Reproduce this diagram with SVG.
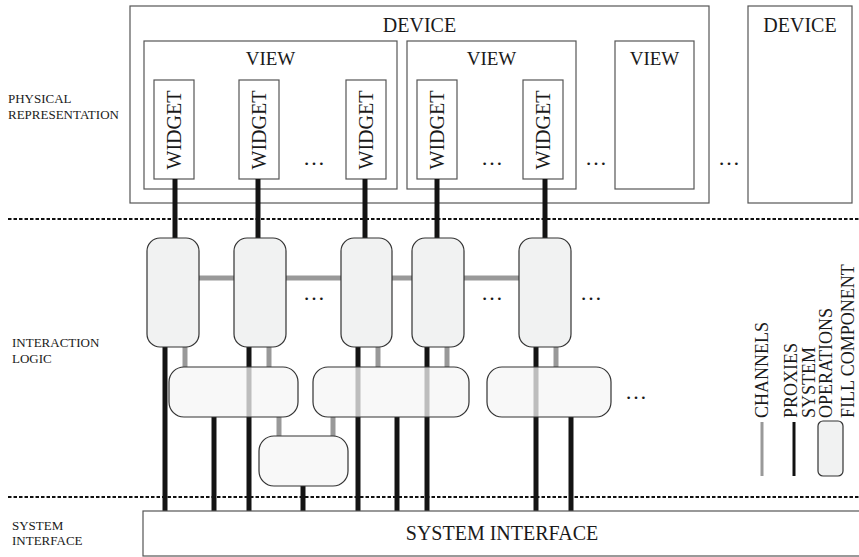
<svg xmlns="http://www.w3.org/2000/svg" width="859" height="557" viewBox="0 0 859 557">
<style>
text{font-family:"Liberation Serif","Times New Roman",serif;fill:#1a1a1a}
.lbl{font-size:13px}
.box{fill:#fff;stroke:#555;stroke-width:1.2}
.big{font-size:20px;text-anchor:middle}
.view{font-size:19px;text-anchor:middle}
.wt{font-size:20px;text-anchor:middle}
.proxy{fill:#f1f2f2;stroke:#333;stroke-width:1.2}
.op{fill:#f5f5f5;fill-opacity:0.75;stroke:#333;stroke-width:1.2}
.blk{stroke:#141414;stroke-width:5;fill:none}
.gry{stroke:#999;stroke-width:5;fill:none}
.dash{stroke:#111;stroke-width:2;stroke-dasharray:3.5 2;fill:none}
.ell{font-size:22px;text-anchor:middle}
.leg{font-size:18px}
</style>

<g id="separators">
<line class="dash" x1="8" y1="219" x2="859" y2="219"/>
<line class="dash" x1="8" y1="497" x2="859" y2="497"/>
</g>

<g id="layer-labels">
<text class="lbl" x="8" y="103">PHYSICAL</text>
<text class="lbl" x="8" y="119">REPRESENTATION</text>
<text class="lbl" x="12" y="347">INTERACTION</text>
<text class="lbl" x="12" y="363">LOGIC</text>
<text class="lbl" x="12" y="530">SYSTEM</text>
<text class="lbl" x="12" y="545">INTERFACE</text>
</g>

<g id="device1">
<rect class="box" x="130" y="6" width="579" height="197"/>
<text class="big" x="419.5" y="32">DEVICE</text>
</g>
<g id="device2">
<rect class="box" x="748" y="6" width="104" height="197"/>
<text class="big" x="800" y="32">DEVICE</text>
</g>
<g id="view1">
<rect class="box" x="144" y="41" width="253" height="148"/>
<text class="view" x="270.5" y="65">VIEW</text>
</g>
<g id="view2">
<rect class="box" x="407" y="41" width="169" height="148"/>
<text class="view" x="491.5" y="65">VIEW</text>
</g>
<g id="view3">
<rect class="box" x="615" y="41" width="79" height="148"/>
<text class="view" x="654.5" y="65">VIEW</text>
</g>

<g id="widget1"><rect class="box" x="154" y="80" width="40" height="99"/><text class="wt" transform="translate(181,130) rotate(-90)">WIDGET</text></g>
<g id="widget2"><rect class="box" x="239" y="80" width="40" height="99"/><text class="wt" transform="translate(266,130) rotate(-90)">WIDGET</text></g>
<g id="widget3"><rect class="box" x="346" y="80" width="40" height="99"/><text class="wt" transform="translate(373,130) rotate(-90)">WIDGET</text></g>
<g id="widget4"><rect class="box" x="417" y="80" width="40" height="99"/><text class="wt" transform="translate(444,130) rotate(-90)">WIDGET</text></g>
<g id="widget5"><rect class="box" x="523" y="80" width="40" height="99"/><text class="wt" transform="translate(550,130) rotate(-90)">WIDGET</text></g>

<g id="ellipses">
<text class="ell" x="314" y="165">…</text>
<text class="ell" x="492" y="165">…</text>
<text class="ell" x="596" y="165">…</text>
<text class="ell" x="729" y="165">…</text>
<text class="ell" x="314" y="300">…</text>
<text class="ell" x="492" y="300">…</text>
<text class="ell" x="591" y="300">…</text>
<text class="ell" x="636" y="399">…</text>
</g>

<g id="connectors">
<line class="blk" x1="175" y1="179" x2="175" y2="238"/>
<line class="blk" x1="258" y1="179" x2="258" y2="238"/>
<line class="blk" x1="365" y1="179" x2="365" y2="238"/>
<line class="blk" x1="437" y1="179" x2="437" y2="238"/>
<line class="blk" x1="545" y1="179" x2="545" y2="238"/>
<line class="gry" x1="199" y1="278" x2="234" y2="278"/>
<line class="gry" x1="286" y1="278" x2="341" y2="278"/>
<line class="gry" x1="392" y1="278" x2="412" y2="278"/>
<line class="gry" x1="464" y1="278" x2="519" y2="278"/>
<line class="gry" x1="185" y1="347" x2="185" y2="367"/>
<line class="gry" x1="269" y1="347" x2="269" y2="367"/>
<line class="gry" x1="378" y1="347" x2="378" y2="367"/>
<line class="gry" x1="447" y1="347" x2="447" y2="367"/>
<line class="gry" x1="556" y1="347" x2="556" y2="367"/>
<line class="gry" x1="279" y1="417" x2="279" y2="436"/>
<line class="gry" x1="333" y1="417" x2="333" y2="436"/>
<line class="blk" x1="165" y1="347" x2="165" y2="511"/>
<line class="blk" x1="249" y1="347" x2="249" y2="511"/>
<line class="blk" x1="358" y1="347" x2="358" y2="511"/>
<line class="blk" x1="427" y1="347" x2="427" y2="511"/>
<line class="blk" x1="536" y1="347" x2="536" y2="511"/>
<line class="blk" x1="214" y1="417" x2="214" y2="511"/>
<line class="blk" x1="397" y1="417" x2="397" y2="511"/>
<line class="blk" x1="571" y1="417" x2="571" y2="511"/>
<line class="blk" x1="303" y1="486" x2="303" y2="511"/>
</g>

<g id="proxy1"><rect class="proxy" x="147" y="238" width="52" height="109" rx="13"/></g>
<g id="proxy2"><rect class="proxy" x="234" y="238" width="52" height="109" rx="13"/></g>
<g id="proxy3"><rect class="proxy" x="341" y="238" width="51" height="109" rx="13"/></g>
<g id="proxy4"><rect class="proxy" x="412" y="238" width="52" height="109" rx="13"/></g>
<g id="proxy5"><rect class="proxy" x="519" y="238" width="52" height="109" rx="13"/></g>

<g id="opA"><rect class="op" x="169" y="367" width="129" height="50" rx="15"/></g>
<g id="opB"><rect class="op" x="313" y="367" width="156" height="50" rx="15"/></g>
<g id="opC"><rect class="op" x="487" y="367" width="124" height="50" rx="15"/></g>
<g id="opD"><rect class="op" x="259" y="436" width="89" height="50" rx="15"/></g>

<g id="system-interface">
<rect class="box" x="143" y="511" width="717" height="45"/>
<text class="big" x="502" y="540">SYSTEM INTERFACE</text>
</g>

<g id="legend">
<line x1="762" y1="422" x2="762" y2="476" stroke="#999" stroke-width="3"/>
<line x1="794" y1="422" x2="794" y2="476" stroke="#111" stroke-width="3"/>
<rect x="818" y="421" width="25" height="55" rx="5" fill="#f1f2f2" stroke="#333" stroke-width="1.2"/>
<text class="leg" transform="translate(768,418) rotate(-90)">CHANNELS</text>
<text class="leg" transform="translate(797,418) rotate(-90)">PROXIES</text>
<text class="leg" transform="translate(815,418) rotate(-90)">SYSTEM</text>
<text class="leg" transform="translate(832,418) rotate(-90)">OPERATIONS</text>
<text class="leg" transform="translate(854,418) rotate(-90)">FILL COMPONENT</text>
</g>
</svg>
